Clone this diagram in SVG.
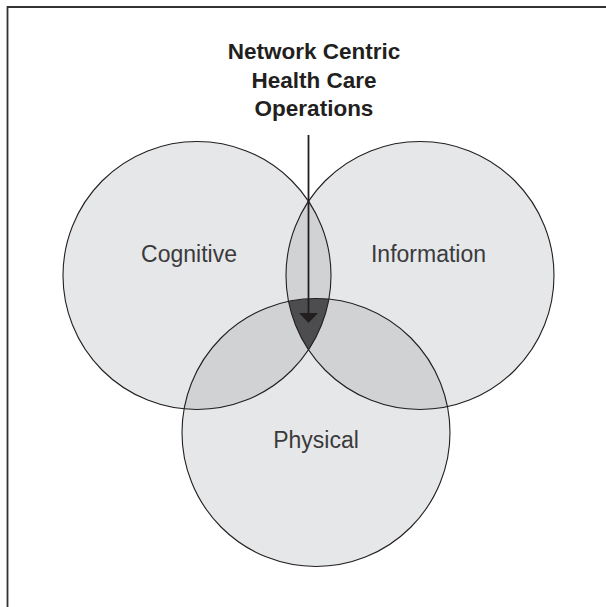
<svg xmlns="http://www.w3.org/2000/svg" xmlns:xlink="http://www.w3.org/1999/xlink" width="606" height="607" viewBox="0 0 606 607">
  <style>
    .fill { fill: #e6e7e8; stroke: none; }
    .pair { fill: #d1d2d4; stroke: none; }
    .triple { fill: #4d4d4f; stroke: none; }
    .outline { fill: none; stroke: #231f20; stroke-width: 1.1; }
    .label { font-family: "Liberation Sans", Arial, sans-serif; font-size: 23px; fill: #3a3a3c; text-anchor: middle; }
    .title { font-family: "Liberation Sans", Arial, sans-serif; font-size: 22.5px; font-weight: bold; fill: #231f20; text-anchor: middle; }
    .arrow { stroke: #231f20; stroke-width: 1.8; fill: none; }
    .frame { stroke: #333333; stroke-width: 1.8; fill: none; }
  </style>
  <defs>
    <circle id="cCog" cx="197" cy="275.5" r="134"/>
    <circle id="cInf" cx="420" cy="275.5" r="134"/>
    <circle id="cPhy" cx="316" cy="432.5" r="134"/>
    <clipPath id="clipCog"><circle cx="197" cy="275.5" r="134"/></clipPath>
    <clipPath id="clipInf"><circle cx="420" cy="275.5" r="134"/></clipPath>
    <clipPath id="clipPhy"><circle cx="316" cy="432.5" r="134"/></clipPath>
    <marker id="head" viewBox="0 0 10 19" refX="5" refY="9.5" markerWidth="10" markerHeight="19" markerUnits="userSpaceOnUse" orient="auto">
      <path d="M0,0 L10,9.5 L0,19 Z" fill="#231f20"/>
    </marker>
  </defs>

  <rect width="606" height="607" fill="#ffffff"/>
  <path class="frame" d="M7.5,607 L7.5,7 L606,7"/>

  <g id="node-cognitive">
    <use xlink:href="#cCog" href="#cCog" class="fill"/>
    <text class="label" x="189" y="262">Cognitive</text>
  </g>
  <g id="node-information">
    <use xlink:href="#cInf" href="#cInf" class="fill"/>
    <text class="label" x="428.5" y="262">Information</text>
  </g>
  <g id="node-physical">
    <use xlink:href="#cPhy" href="#cPhy" class="fill"/>
    <text class="label" x="316" y="448">Physical</text>
  </g>

  <g id="overlaps">
    <use xlink:href="#cInf" href="#cInf" class="pair" clip-path="url(#clipCog)"/>
    <use xlink:href="#cPhy" href="#cPhy" class="pair" clip-path="url(#clipCog)"/>
    <use xlink:href="#cPhy" href="#cPhy" class="pair" clip-path="url(#clipInf)"/>
    <g clip-path="url(#clipCog)">
      <use xlink:href="#cPhy" href="#cPhy" class="triple" clip-path="url(#clipInf)"/>
    </g>
  </g>

  <g id="outlines">
    <use xlink:href="#cCog" href="#cCog" class="outline"/>
    <use xlink:href="#cInf" href="#cInf" class="outline"/>
    <use xlink:href="#cPhy" href="#cPhy" class="outline"/>
  </g>

  <g id="node-title">
    <text class="title" x="314" y="59">Network Centric</text>
    <text class="title" x="314" y="87.5">Health Care</text>
    <text class="title" x="314" y="115.5">Operations</text>
  </g>

  <g id="connectors">
    <line class="arrow" x1="308.5" y1="135" x2="308.5" y2="318" marker-end="url(#head)"/>
  </g>
</svg>
